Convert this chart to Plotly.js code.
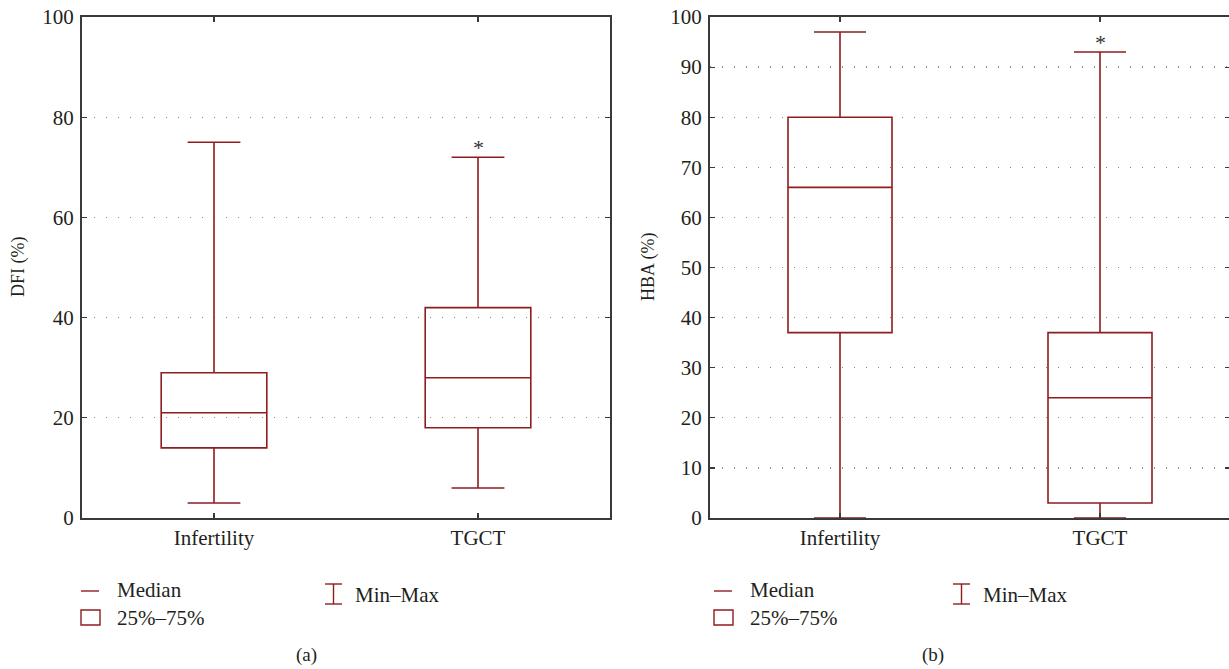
<!DOCTYPE html>
<html>
<head>
<meta charset="utf-8">
<script src="https://cdn.plot.ly/plotly-3.0.1.min.js"></script>
<style>
html,body{margin:0;padding:0;overflow:hidden;background:#fff;}
#chart{width:1232px;height:669px;}
</style>
</head>
<body>
<div id="chart"></div>
<script>
// ---- data ----
const categories = ['Infertility', 'TGCT'];
// Panel (a): DFI (%)
const dfiMin = [3, 6];
const dfiQ1 = [14, 18];
const dfiMedian = [21, 28];
const dfiQ3 = [29, 42];
const dfiMax = [75, 72];
// Panel (b): HBA (%)
const hbaMin = [0, 0];
const hbaQ1 = [37, 3];
const hbaMedian = [66, 24];
const hbaQ3 = [80, 37];
const hbaMax = [97, 93];
// significance markers (category, y value)
const dfiStar = {cat: 'TGCT', y: 74.6};
const hbaStar = {cat: 'TGCT', y: 95.6};
const legendLabels = ['Median', '25%\u201375%', 'Min\u2013Max'];
const panelLabels = ['(a)', '(b)'];
const yTitles = ['DFI (%)', 'HBA (%)'];

// ---- styling ----
const W = 1232, H = 669;
const RED = '#8e1d20';
const AX = '#3a3a3a';
const TXT = '#231f20';
const FONT = 'Liberation Serif, Times New Roman, serif';
const px = x => x / W;
const py = y => 1 - y / H;

function boxTrace(q1, med, q3, lo, hi, xa, ya) {
  return {
    type: 'box', x: categories, q1: q1, median: med, q3: q3,
    lowerfence: lo, upperfence: hi,
    line: {color: RED, width: 1.6}, fillcolor: 'rgba(0,0,0,0)',
    whiskerwidth: 0.5, boxpoints: false, hoverinfo: 'skip',
    showlegend: false, xaxis: xa, yaxis: ya
  };
}

const traces = [
  boxTrace(dfiQ1, dfiMedian, dfiQ3, dfiMin, dfiMax, 'x', 'y'),
  boxTrace(hbaQ1, hbaMedian, hbaQ3, hbaMin, hbaMax, 'x2', 'y2')
];

const tickFont = {family: FONT, size: 21, color: TXT};
function xAxis(d, anchor) {
  return {
    domain: d, anchor: anchor, type: 'category', range: [-0.5, 1.5],
    showline: true, linecolor: AX, linewidth: 2, mirror: 'ticks',
    ticks: 'inside', ticklen: 5, tickcolor: AX, tickwidth: 1.2,
    showgrid: false, zeroline: false, tickfont: tickFont, fixedrange: true,
    layer: 'above traces'
  };
}
function yAxis(dt, anchor) {
  return {
    domain: [py(518), py(17)], anchor: anchor, range: [0, 100], dtick: dt,
    showline: true, linecolor: AX, linewidth: 2, mirror: 'ticks',
    ticks: 'inside', ticklen: 5, tickcolor: AX, tickwidth: 1.2,
    showgrid: true, gridcolor: '#8a8a8a', gridwidth: 1.4, griddash: '1.4px,10.6px',
    zeroline: false, tickfont: tickFont, fixedrange: true, ticklabelstandoff: 2,
    layer: 'above traces'
  };
}

const shapes = [];
const annotations = [];

function legend(x0, ox) {
  shapes.push({type: 'line', xref: 'paper', yref: 'paper',
    x0: px(x0), x1: px(x0 + 18), y0: py(591), y1: py(591), line: {color: RED, width: 1.4}});
  shapes.push({type: 'rect', xref: 'paper', yref: 'paper',
    x0: px(x0), x1: px(x0 + 19), y0: py(625), y1: py(610), line: {color: RED, width: 1.4}});
  const cx = ox + 8.5;
  shapes.push({type: 'line', xref: 'paper', yref: 'paper',
    x0: px(cx), x1: px(cx), y0: py(584), y1: py(604), line: {color: RED, width: 1.4}});
  shapes.push({type: 'line', xref: 'paper', yref: 'paper',
    x0: px(ox), x1: px(ox + 17), y0: py(584), y1: py(584), line: {color: RED, width: 1.4}});
  shapes.push({type: 'line', xref: 'paper', yref: 'paper',
    x0: px(ox), x1: px(ox + 17), y0: py(604), y1: py(604), line: {color: RED, width: 1.4}});
  const lf = {family: FONT, size: 21, color: TXT};
  annotations.push({xref: 'paper', yref: 'paper', x: px(x0 + 34), y: py(590), text: legendLabels[0],
    showarrow: false, xanchor: 'left', yanchor: 'middle', font: lf});
  annotations.push({xref: 'paper', yref: 'paper', x: px(x0 + 34), y: py(618), text: legendLabels[1],
    showarrow: false, xanchor: 'left', yanchor: 'middle', font: lf});
  annotations.push({xref: 'paper', yref: 'paper', x: px(ox + 28), y: py(595), text: legendLabels[2],
    showarrow: false, xanchor: 'left', yanchor: 'middle', font: lf});
}
legend(81, 325);
legend(714, 953);

const pf = {family: FONT, size: 19, color: TXT};
annotations.push({xref: 'paper', yref: 'paper', x: px(306), y: py(655), text: panelLabels[0],
  showarrow: false, xanchor: 'center', yanchor: 'middle', font: pf});
annotations.push({xref: 'paper', yref: 'paper', x: px(933), y: py(655), text: panelLabels[1],
  showarrow: false, xanchor: 'center', yanchor: 'middle', font: pf});
annotations.push({xref: 'paper', yref: 'paper', x: px(18), y: py(267), text: yTitles[0], textangle: -90,
  showarrow: false, xanchor: 'center', yanchor: 'middle', font: {family: FONT, size: 18, color: TXT}});
annotations.push({xref: 'paper', yref: 'paper', x: px(648), y: py(267), text: yTitles[1], textangle: -90,
  showarrow: false, xanchor: 'center', yanchor: 'middle', font: {family: FONT, size: 18, color: TXT}});
annotations.push({xref: 'x', yref: 'y', x: dfiStar.cat, y: dfiStar.y, text: '*', showarrow: false,
  yanchor: 'middle', font: {family: FONT, size: 22, color: '#333'}, yshift: -3});
annotations.push({xref: 'x2', yref: 'y2', x: hbaStar.cat, y: hbaStar.y, text: '*', showarrow: false,
  yanchor: 'middle', font: {family: FONT, size: 22, color: '#333'}, yshift: -3});

const layout = {
  width: W, height: H,
  margin: {l: 0, r: 0, t: 0, b: 0},
  paper_bgcolor: '#fff', plot_bgcolor: '#fff',
  showlegend: false,
  boxgap: 0.6, boxgroupgap: 0,
  xaxis: xAxis([px(82), px(610)], 'y'),
  yaxis: yAxis(20, 'x'),
  xaxis2: xAxis([px(710), px(1230)], 'y2'),
  yaxis2: yAxis(10, 'x2'),
  shapes: shapes,
  annotations: annotations
};

Plotly.newPlot('chart', traces, layout, {displayModeBar: false, staticPlot: true});
</script>
</body>
</html>
